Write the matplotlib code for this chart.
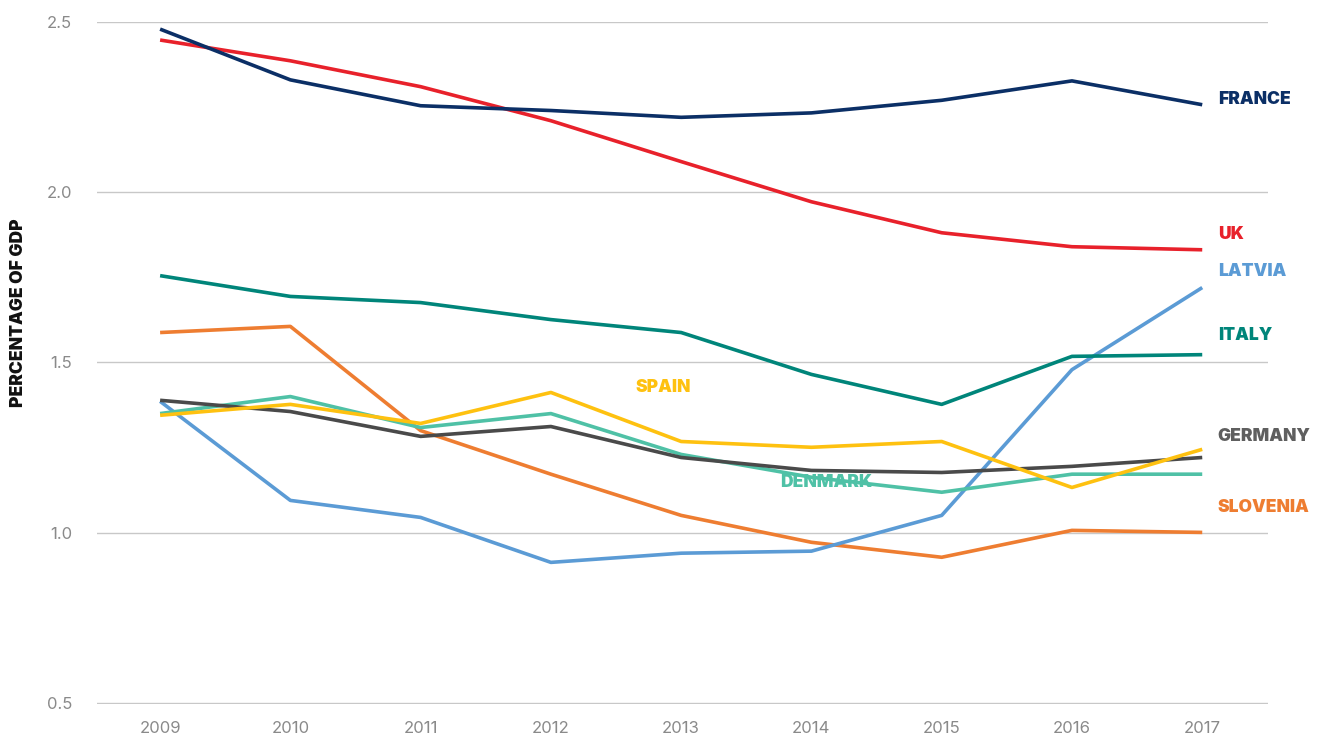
import matplotlib
matplotlib.use("Agg")
import matplotlib.pyplot as plt

years = [2009, 2010, 2011, 2012, 2013, 2014, 2015, 2016, 2017]

france = [2.479, 2.33, 2.254, 2.24, 2.22, 2.233, 2.27, 2.327, 2.257]
uk = [2.447, 2.386, 2.31, 2.21, 2.09, 1.972, 1.881, 1.84, 1.831]
italy = [1.755, 1.694, 1.676, 1.626, 1.588, 1.465, 1.377, 1.518, 1.523]
slovenia = [1.588, 1.606, 1.30, 1.172, 1.051, 0.972, 0.928, 1.007, 1.001]
latvia = [1.386, 1.095, 1.045, 0.913, 0.94, 0.946, 1.051, 1.479, 1.72]
germany = [1.389, 1.356, 1.283, 1.312, 1.221, 1.183, 1.177, 1.195, 1.221]
denmark = [1.35, 1.40, 1.309, 1.35, 1.23, 1.163, 1.119, 1.172, 1.172]
spain = [1.345, 1.377, 1.321, 1.412, 1.268, 1.251, 1.268, 1.133, 1.245]

# (name, values, colour, label x, label y)
series = [
    ("FRANCE", france, "#0b2f66", 2017.12, 2.271),
    ("UK", uk, "#e8212b", 2017.12, 1.875),
    ("LATVIA", latvia, "#5b9bd5", 2017.12, 1.767),
    ("ITALY", italy, "#00857a", 2017.12, 1.579),
    ("SPAIN", spain, "#fec110", 2012.65, 1.427),
    ("GERMANY", germany, "#4a4a4a", 2017.12, 1.283),
    ("DENMARK", denmark, "#4fc1a6", 2013.76, 1.148),
    ("SLOVENIA", slovenia, "#ee7d31", 2017.12, 1.075),
]
label_colors = {"GERMANY": "#5f5f5f"}

plt.rcParams["font.family"] = ["Inter", "DejaVu Sans"]

fig = plt.figure(figsize=(13.17, 7.40), dpi=100)
ax = fig.add_axes([0.0737, 0.0486, 0.8893, 0.9217])

draw_order = ["SLOVENIA", "LATVIA", "DENMARK", "GERMANY", "SPAIN", "ITALY", "UK", "FRANCE"]
for name, vals, color, lx, ly in series:
    z = 3 + draw_order.index(name)
    ax.plot(years, vals, color=color, linewidth=2.6, zorder=z, solid_capstyle="butt")
    ax.text(lx, ly, name, color=label_colors.get(name, color), fontsize=12.5,
            fontweight="black", va="center", ha="left", zorder=20)

ax.set_xlim(2008.516, 2017.507)
ax.set_ylim(0.497, 2.5)
ax.set_yticks([0.5, 1.0, 1.5, 2.0, 2.5])
ax.set_yticklabels(["0.5", "1.0", "1.5", "2.0", "2.5"])
ax.set_xticks(years)
ax.set_xticklabels([str(y) for y in years])
ax.tick_params(axis="both", length=0, labelsize=12, labelcolor="#8a8a8a")
ax.tick_params(axis="y", pad=18)
ax.tick_params(axis="x", pad=12)
ax.grid(axis="y", color="#c8c8c8", linewidth=1)
ax.set_axisbelow(True)
for s in ax.spines.values():
    s.set_visible(False)

fig.text(0.014, 0.578, "PERCENTAGE OF GDP", rotation=90, fontsize=12.5,
         fontweight="black", color="#111111", ha="center", va="center")

fig.savefig("out.png", dpi=100)
